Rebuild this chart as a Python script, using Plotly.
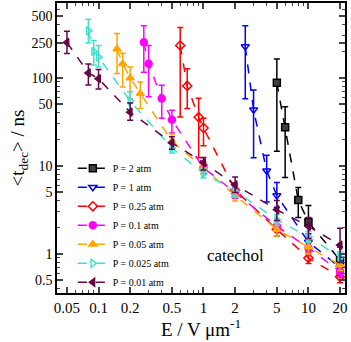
import numpy as np
import plotly.graph_objects as go

# field strength E (V/um) and mean decomposition time <t_dec> (ns), per pressure
labels = ["P = 2 atm", "P = 1 atm", "P = 0.25 atm", "P = 0.1 atm",
          "P = 0.05 atm", "P = 0.025 atm", "P = 0.01 atm"]

e_2 = [5, 6, 8, 10, 20]
t_2 = [88, 27.6, 4.1, 2.3, 0.85]
hi_2 = [164, 47, 5.7, 3.55, 1.2]
lo_2 = [14.7, 7.4, 2.6, 1.5, 0.6]

e_1 = [2.5, 3, 4, 5, 10, 20]
t_1 = [227, 43.4, 8.8, 4.6, 1.37, 0.7]
hi_1 = [392, 73, 13.2, 6.5, 1.7, 0.85]
lo_1 = [58, 12.4, 3.9, 3.4, 1.1, 0.55]

e_025 = [0.6, 0.7, 0.9, 1, 2, 5, 10, 20]
t_025 = [233, 81, 35.8, 27, 5.3, 1.9, 0.9, 0.55]
hi_025 = [375, 127, 58.6, 34.8, 6.2, 2.2, 1.05, 0.65]
lo_025 = [36, 45, 12.4, 17, 4.3, 1.6, 0.78, 0.47]

e_01 = [0.27, 0.3, 0.4, 0.5, 1, 2, 5, 10, 20]
t_01 = [254, 145, 58.5, 33.5, 9.5, 5.0, 2.06, 1.17, 0.63]
hi_01 = [392, 233, 82.7, 43, 11, 5.8, 2.4, 1.35, 0.72]
lo_01 = [116, 61, 34.8, 23.6, 8.2, 4.3, 1.8, 1.0, 0.55]

e_005 = [0.15, 0.17, 0.2, 0.25, 0.5, 1, 2, 5, 10, 20]
t_005 = [213, 145, 100, 66.6, 19.1, 9.5, 4.6, 1.9, 1.2, 0.75]
hi_005 = [320, 191, 133, 90, 23, 11, 5.4, 2.2, 1.4, 0.87]
lo_005 = [112, 79, 58, 45, 16, 8, 4, 1.6, 1.0, 0.65]

e_0025 = [0.08, 0.09, 0.1, 0.2, 0.5, 1, 2, 5, 10, 20]
t_0025 = [344, 200, 172, 54.7, 16, 8.2, 5.2, 2.45, 1.56, 0.92]
hi_0025 = [464, 267, 233, 69.6, 19, 9.5, 6, 2.8, 1.8, 1.05]
lo_0025 = [250, 140, 133, 43.7, 14, 7.3, 4.5, 2.1, 1.35, 0.8]

e_001 = [0.05, 0.08, 0.1, 0.2, 0.5, 1, 2, 5, 10, 20]
t_001 = [253, 114, 98, 40.8, 18.3, 10.9, 6.1, 3.18, 2.06, 1.26]
hi_001 = [340, 144, 125, 52, 21.5, 12.5, 7.5, 4.05, 2.6, 1.96]
lo_001 = [190, 83, 75, 33, 15.5, 9, 5, 2.4, 1.5, 0.8]

xticks = [0.05, 0.1, 0.2, 0.5, 1, 2, 5, 10, 20]
yticks = [0.5, 1, 5, 10, 50, 100, 250, 500]

series = [
    (e_2, t_2, hi_2, lo_2, "#000000", "square", "#404040"),
    (e_1, t_1, hi_1, lo_1, "#0000ff", "triangle-down-open", "#0000ff"),
    (e_025, t_025, hi_025, lo_025, "#ff0000", "diamond-open", "#ff0000"),
    (e_01, t_01, hi_01, lo_01, "#ff00ff", "circle", "#ff00ff"),
    (e_005, t_005, hi_005, lo_005, "#ffa500", "triangle-up", "#ffa500"),
    (e_0025, t_0025, hi_0025, lo_0025, "#40e0d0", "triangle-right-open", "#40e0d0"),
    (e_001, t_001, hi_001, lo_001, "#670748", "triangle-left", "#670748"),
]

fig = go.Figure()
for name, (e, t, hi, lo, col, sym, fill) in zip(labels, series):
    t = np.array(t)
    fig.add_trace(go.Scatter(
        x=e, y=t, name=name, mode="lines+markers",
        line=dict(color=col, width=1.5, dash="dash"),
        marker=dict(symbol=sym, size=7, color=fill, line=dict(color=col, width=1.5)),
        error_y=dict(type="data", symmetric=False,
                     array=np.array(hi) - t, arrayminus=t - np.array(lo),
                     color=col, thickness=1.5, width=3),
    ))

fig.add_annotation(x=np.log10(2), y=np.log10(0.95), xref="x", yref="y",
                   text="catechol", showarrow=False,
                   font=dict(size=17, color="black"))

minor_x = [m * 10 ** k for k in (-2, -1, 0, 1) for m in range(2, 10)]
minor_y = [m * 10 ** k for k in (-1, 0, 1, 2) for m in range(2, 10)]

fig.update_xaxes(type="log", range=[np.log10(0.0402), np.log10(22.3)],
                 tickvals=xticks, ticktext=[str(v) for v in xticks],
                 ticks="inside", ticklen=6, tickwidth=1.5, mirror="allticks",
                 showline=True, linecolor="black", linewidth=1.5,
                 showgrid=False, zeroline=False, tickfont=dict(size=15),
                 minor=dict(tickvals=minor_x, ticks="inside", ticklen=3, tickwidth=1),
                 title=dict(text="E / V μm<sup>-1</sup>", font=dict(size=19), standoff=6))
fig.update_yaxes(type="log", range=[np.log10(0.36), np.log10(710)],
                 tickvals=yticks, ticktext=[str(v) for v in yticks],
                 ticks="inside", ticklen=6, tickwidth=1.5, mirror="allticks",
                 showline=True, linecolor="black", linewidth=1.5,
                 showgrid=False, zeroline=False, tickfont=dict(size=14),
                 minor=dict(tickvals=minor_y, ticks="inside", ticklen=3, tickwidth=1),
                 title=dict(text="&lt;t<sub>dec</sub>&gt; / ns", font=dict(size=19), standoff=2))

fig.update_layout(
    width=351, height=342,
    margin=dict(l=57, r=6, t=1, b=49),
    paper_bgcolor="white", plot_bgcolor="white",
    font=dict(family="Liberation Serif", color="black"),
    legend=dict(x=0.055, y=0.48, xanchor="left", yanchor="top",
                bgcolor="rgba(0,0,0,0)", font=dict(size=10),
                itemwidth=30, tracegroupgap=0),
)

fig.write_html("out.html", config={"displayModeBar": False},
               post_script="document.body.style.margin='0';")
